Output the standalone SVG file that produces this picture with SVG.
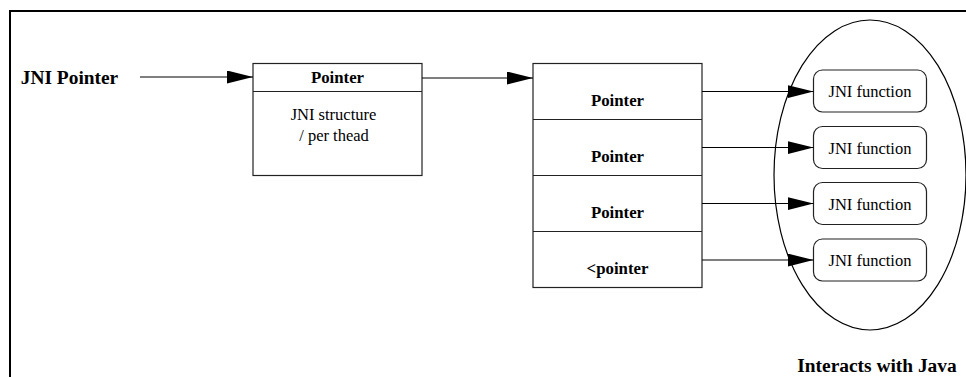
<svg xmlns="http://www.w3.org/2000/svg" width="966" height="377" viewBox="0 0 966 377">
<style>
.box{fill:#fff;stroke:#222;stroke-width:1.2}
.fn{fill:#fff;stroke:#222;stroke-width:1.2}
.ln{stroke:#000;stroke-width:1.2;fill:none}
.t{font-family:'Liberation Serif',Tinos,'Times New Roman',Times,'DejaVu Serif',serif;fill:#000;text-anchor:middle}
.b{font-weight:bold}
.r{font-size:16.5px}
.bs{font-size:16.8px}
.bl{font-size:19.4px}
</style>
<defs>
<marker id="ah" markerUnits="userSpaceOnUse" markerWidth="27" markerHeight="14" refX="26" refY="6.5" orient="auto">
<path d="M0,0 L26,6.5 L0,13 z" fill="#000"/>
</marker>
</defs>
<rect x="0" y="0" width="966" height="377" fill="#fff"/>
<g id="frame">
<path d="M10,378 L10,11 L967,11" fill="none" stroke="#000" stroke-width="2"/>
</g>
<g id="jni-pointer-label">
<text class="t b bl" x="69.5" y="84">JNI Pointer</text>
</g>
<g id="jni-structure">
<rect class="box" x="253" y="63.5" width="169" height="112"/>
<line class="box" x1="253" y1="91.5" x2="422" y2="91.5"/>
<text class="t b bs" x="337.5" y="83">Pointer</text>
<text class="t r" x="333.5" y="120">JNI structure</text>
<text class="t r" x="334" y="141">/ per thead</text>
</g>
<g id="pointer-table">
<rect class="box" x="533" y="63.5" width="169" height="224"/>
<line class="box" x1="533" y1="119.5" x2="702" y2="119.5"/>
<line class="box" x1="533" y1="175.5" x2="702" y2="175.5"/>
<line class="box" x1="533" y1="231.5" x2="702" y2="231.5"/>
<text class="t b bs" x="617.5" y="106">Pointer</text>
<text class="t b bs" x="617.5" y="162">Pointer</text>
<text class="t b bs" x="617.5" y="218">Pointer</text>
<text class="t b bs" x="617.5" y="274">&lt;pointer</text>
</g>
<g id="java-region">
<ellipse cx="870" cy="175" rx="96" ry="155" fill="none" stroke="#000" stroke-width="1.2"/>
<text class="t b bl" x="877" y="372">Interacts with Java</text>
</g>
<g id="fn1">
<rect class="fn" x="813.5" y="70" width="113" height="42" rx="9"/>
<text class="t r" x="870" y="97">JNI function</text>
</g>
<g id="fn2">
<rect class="fn" x="813.5" y="126.5" width="113" height="42" rx="9"/>
<text class="t r" x="870" y="153.5">JNI function</text>
</g>
<g id="fn3">
<rect class="fn" x="813.5" y="182.5" width="113" height="42" rx="9"/>
<text class="t r" x="870" y="209.5">JNI function</text>
</g>
<g id="fn4">
<rect class="fn" x="813.5" y="239" width="113" height="42" rx="9"/>
<text class="t r" x="870" y="266">JNI function</text>
</g>
<g id="connectors">
<line class="ln" x1="140" y1="77" x2="253" y2="77" marker-end="url(#ah)"/>
<line class="ln" x1="422" y1="78" x2="533" y2="78" marker-end="url(#ah)"/>
<line class="ln" x1="702" y1="91.5" x2="813.5" y2="91.5" marker-end="url(#ah)"/>
<line class="ln" x1="702" y1="147.5" x2="813.5" y2="147.5" marker-end="url(#ah)"/>
<line class="ln" x1="702" y1="203.5" x2="813.5" y2="203.5" marker-end="url(#ah)"/>
<line class="ln" x1="702" y1="260" x2="813.5" y2="260" marker-end="url(#ah)"/>
</g>
</svg>
